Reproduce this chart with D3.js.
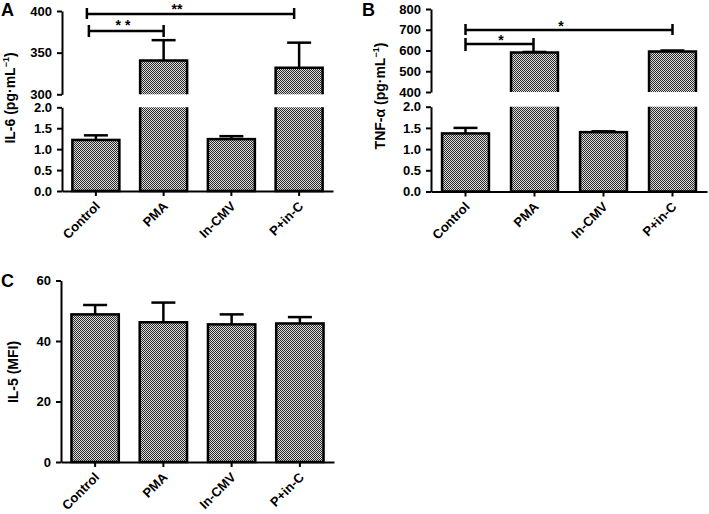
<!DOCTYPE html>
<html><head><meta charset="utf-8">
<script src="https://cdn.jsdelivr.net/npm/d3@7/dist/d3.min.js"></script>
<style>
body{margin:0;background:#fff;}
svg{display:block;font-family:"Liberation Sans",Arial,sans-serif;}
.tick text{font-weight:bold;font-size:13px;fill:#000;font-family:"Liberation Sans",Arial,sans-serif;}
</style></head>
<body>
<svg id="chart" width="709" height="514"></svg>
<script>
// ---- data ----
const categories = ["Control", "PMA", "In-CMV", "P+in-C"];
const il6Values = [1.22, 340.5, 1.24, 332];
const il6Errors = [0.11, 24.5, 0.07, 30];
const tnfValues = [1.37, 590, 1.40, 595];
const tnfErrors = [0.13, 3, 0.02, 5];
const il5Values = [48.8, 46.2, 45.5, 45.8];
const il5Errors = [3.1, 6.5, 3.3, 2.1];
const il6TopTicks = [300, 350, 400];
const il6BottomTicks = [0.0, 0.5, 1.0, 1.5, 2.0];
const tnfTopTicks = [400, 500, 600, 700, 800];
const tnfBottomTicks = [0.0, 0.5, 1.0, 1.5, 2.0];
const il5Ticks = [0, 20, 40, 60];
const il6Brackets = [{from: 0, to: 3, label: "**"}, {from: 0, to: 1, label: "* *"}];
const tnfBrackets = [{from: 0, to: 3, label: "*"}, {from: 0, to: 1, label: "*"}];

const svg = d3.select("#chart");
const defs = svg.append("defs");
const pat = defs.append("pattern").attr("id", "chk").attr("patternUnits", "userSpaceOnUse")
  .attr("width", 2).attr("height", 2);
pat.append("rect").attr("width", 2).attr("height", 2).attr("fill", "#dcdcdc");
pat.append("rect").attr("width", 1).attr("height", 1).attr("fill", "#2a2a2a");
pat.append("rect").attr("x", 1).attr("y", 1).attr("width", 1).attr("height", 1).attr("fill", "#2a2a2a");

const SW = 2.5;
const fmt1 = d3.format(".1f");
let pathId = 0;

function styleAxis(g) {
  g.select(".domain").attr("stroke", "#000").attr("stroke-width", 2);
  g.selectAll(".tick line").attr("stroke", "#000").attr("stroke-width", 2);
}

function xAxis(g0, x, yAxis) {
  const g = g0.append("g").attr("transform", `translate(0,${yAxis})`)
    .call(d3.axisBottom(x).tickSize(5).tickSizeOuter(0).tickFormat(() => ""));
  styleAxis(g);
  const bw = x.bandwidth();
  const L = 90, k = Math.SQRT1_2;
  categories.forEach(c => {
    const ex = x(c) + bw / 2 + 5, ey = yAxis + 16;
    const id = "lbl" + (pathId++);
    defs.append("path").attr("id", id)
      .attr("d", `M${ex - L * k},${ey + L * k}L${ex},${ey}`);
    g0.append("text").attr("font-weight", "bold").attr("font-size", 13)
      .append("textPath").attr("href", "#" + id).attr("xlink:href", "#" + id)
      .attr("startOffset", "100%").attr("text-anchor", "end")
      .text(c);
  });
}

function yLabel(g, x, y, main, sup, tail) {
  const t = g.append("text").attr("transform", `translate(${x},${y}) rotate(-90)`)
    .attr("text-anchor", "middle").attr("font-weight", "bold").attr("font-size", 14);
  t.append("tspan").text(main);
  if (sup) {
    t.append("tspan").attr("dy", -6).attr("font-size", 9).text(sup);
    t.append("tspan").attr("dy", 6).text(tail);
  }
}

function panelLetter(x, y, s) {
  svg.append("text").attr("x", x).attr("y", y).attr("font-weight", "bold")
    .attr("font-size", 18).text(s);
}

function errorBar(g, cx, y0, y1) {
  g.append("line").attr("x1", cx).attr("x2", cx).attr("y1", y0).attr("y2", y1)
    .attr("stroke", "#000").attr("stroke-width", SW);
  g.append("line").attr("x1", cx - 12).attr("x2", cx + 12).attr("y1", y1).attr("y2", y1)
    .attr("stroke", "#000").attr("stroke-width", SW);
}

function fullBar(g, x0, w, yTop, yBase) {
  g.append("rect").attr("x", x0).attr("y", yTop).attr("width", w).attr("height", yBase - yTop)
    .attr("fill", "url(#chk)").attr("stroke", "#000").attr("stroke-width", SW);
}

function brokenPanel(opt) {
  const g = svg.append("g");
  const x = d3.scaleBand().domain(categories).range(opt.xRange)
    .paddingInner(opt.pad).paddingOuter(opt.pad / 2);
  const yT = d3.scaleLinear().domain(opt.topDomain).range(opt.topRange);
  const yB = d3.scaleLinear().domain(opt.botDomain).range(opt.botRange);
  const ax = opt.xRange[0];
  const gT = g.append("g").attr("transform", `translate(${ax},0)`)
    .call(d3.axisLeft(yT).tickValues(opt.topTicks).tickSize(5).tickSizeOuter(0).tickPadding(5));
  styleAxis(gT);
  const gB = g.append("g").attr("transform", `translate(${ax},0)`)
    .call(d3.axisLeft(yB).tickValues(opt.botTicks).tickSize(5).tickSizeOuter(0).tickPadding(5).tickFormat(fmt1));
  styleAxis(gB);

  const bw = x.bandwidth();
  const base = yB(0), botTop = yB(opt.botDomain[1]), topBot = yT(opt.topDomain[0]);
  opt.values.forEach((v, i) => {
    const x0 = x(categories[i]), cx = x0 + bw / 2;
    if (v <= opt.botDomain[1]) {
      errorBar(g, cx, yB(v), yB(v + opt.errors[i]));
      fullBar(g, x0, bw, yB(v), base);
    } else {
      errorBar(g, cx, yT(v), yT(v + opt.errors[i]));
      g.append("rect").attr("x", x0).attr("y", botTop).attr("width", bw).attr("height", base - botTop)
        .attr("fill", "url(#chk)");
      g.append("path").attr("d", `M${x0},${botTop}V${base}H${x0 + bw}V${botTop}`)
        .attr("fill", "none").attr("stroke", "#000").attr("stroke-width", SW);
      const yt = yT(v);
      g.append("rect").attr("x", x0).attr("y", yt).attr("width", bw).attr("height", topBot - yt)
        .attr("fill", "url(#chk)");
      g.append("path").attr("d", `M${x0},${topBot}V${yt}H${x0 + bw}V${topBot}`)
        .attr("fill", "none").attr("stroke", "#000").attr("stroke-width", SW);
    }
  });
  xAxis(g, x, base);

  opt.brackets.forEach((b, k) => {
    const lay = opt.bracketLayout[k];
    const x1 = x(categories[b.from]) + bw / 2 + lay.dx1;
    const x2 = x(categories[b.to]) + bw / 2 + lay.dx2;
    const y = lay.y;
    g.append("line").attr("x1", x1).attr("x2", x2).attr("y1", y).attr("y2", y)
      .attr("stroke", "#000").attr("stroke-width", SW);
    [x1, x2].forEach(xx => g.append("line").attr("x1", xx).attr("x2", xx)
      .attr("y1", y - lay.capUp).attr("y2", y + lay.capDown)
      .attr("stroke", "#000").attr("stroke-width", SW));
    g.append("text").attr("x", lay.tx).attr("y", lay.ty).attr("text-anchor", "middle")
      .attr("font-weight", "bold").attr("font-size", 14).text(b.label);
  });
  return g;
}

const gA = brokenPanel({
  xRange: [62, 333], pad: 0.306,
  topDomain: [300, 400], topRange: [94.3, 11],
  botDomain: [0, 2], botRange: [191, 107.3],
  topTicks: il6TopTicks, botTicks: il6BottomTicks,
  values: il6Values, errors: il6Errors,
  brackets: il6Brackets,
  bracketLayout: [
    {y: 14, dx1: -9, dx2: -5, capUp: 6, capDown: 5, tx: 177, ty: 14},
    {y: 31, dx1: -7, dx2: 0, capUp: 6, capDown: 6, tx: 123, ty: 30}
  ]
});
yLabel(gA, 15, 98, "IL-6 (pg·mL", "−1", ")");
panelLetter(1, 16, "A");

const gB = brokenPanel({
  xRange: [431, 707], pad: 0.32,
  topDomain: [400, 800], topRange: [92, 9],
  botDomain: [0, 2], botRange: [191.5, 106.7],
  topTicks: tnfTopTicks, botTicks: tnfBottomTicks,
  values: tnfValues, errors: tnfErrors,
  brackets: tnfBrackets,
  bracketLayout: [
    {y: 30, dx1: 0, dx2: 0, capUp: 6, capDown: 5, tx: 561, ty: 31},
    {y: 44, dx1: 0, dx2: -1, capUp: 6, capDown: 7, tx: 501, ty: 45}
  ]
});
yLabel(gB, 385, 96, "TNF-α (pg·mL", "−1", ")");
panelLetter(362, 16, "B");

(function () {
  const g = svg.append("g");
  const x = d3.scaleBand().domain(categories).range([61, 334]).paddingInner(0.306).paddingOuter(0.153);
  const y = d3.scaleLinear().domain([0, 60]).range([462, 280.5]);
  const gy = g.append("g").attr("transform", "translate(61,0)")
    .call(d3.axisLeft(y).tickValues(il5Ticks).tickSize(5).tickSizeOuter(0).tickPadding(5));
  styleAxis(gy);
  const bw = x.bandwidth();
  il5Values.forEach((v, i) => {
    const x0 = x(categories[i]), cx = x0 + bw / 2;
    errorBar(g, cx, y(v), y(v + il5Errors[i]));
    fullBar(g, x0, bw, y(v), y(0));
  });
  xAxis(g, x, y(0));
  yLabel(g, 18, 372, "IL-5 (MFI)");
  panelLetter(1, 287, "C");
})();
</script>
</body></html>
